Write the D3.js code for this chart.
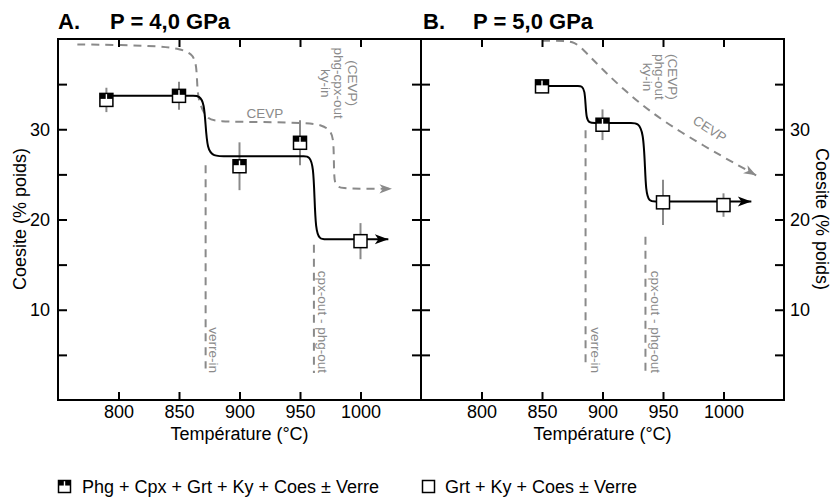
<!DOCTYPE html>
<html><head><meta charset="utf-8">
<script src="https://cdn.jsdelivr.net/npm/d3@7"></script>
<style>
body{margin:0;background:#fff}
svg{display:block}
text{font-family:"Liberation Sans",Arial,Helvetica,sans-serif}
</style>
</head><body>
<svg id="c" width="831" height="498"></svg>
<script>
// ---------------- data ----------------
const xTicks = [800, 850, 900, 950, 1000];
const yTicks = [5, 10, 15, 20, 25, 30, 35];
const yLabelled = [10, 20, 30];

// Panel A : P = 4,0 GPa
const tempA = [790, 850, 900, 950, 1000];
const coesA = [33.25, 33.7, 25.9, 28.5, 17.6];
const errA  = [1.35, 1.55, 2.65, 2.5, 2.0];
const phgA  = [true, true, true, true, false];
const trendA = [[790,33.7],[850,33.7],[862,33.7],[872,33.7],[872,27.0],[884,27.0],[940,27.0],[954,27.0],[962,27.0],[962,17.8],[970,17.8],[990,17.8],[1023,17.8]];
const cevpA = [[766,39.4],[800,39.35],[835,39.2],[851,38.9],[860.5,38.4],[864.7,37.3],[865,34.0],[868,32.5],[873,31.2],[880,30.85],[920,30.8],[955,30.7],[968,30.5],[976,29.8],[978,28.5],[978,24.6],[979.5,23.7],[985,23.45],[1000,23.4],[1026,23.4]];
const verreA = [[872,26.0],[872,3.5]];
const cpxA   = [[961.5,17.2],[961.5,3.0]];

// Panel B : P = 5,0 GPa
const tempB = [850, 900, 950, 1000];
const coesB = [34.75, 30.5, 21.9, 21.6];
const errB  = [0.5, 1.7, 2.5, 1.3];
const phgB  = [true, true, false, false];
const trendB = [[850,34.8],[872,34.8],[880,34.8],[886,34.8],[886,30.7],[892,30.7],[910,30.7],[924,30.7],[935,30.7],[935,22.0],[942,22.0],[960,22.0],[1023,22.0]];
const cevpB = [[850,39.8],[870,39.8],[877,39.6],[883,39.0],[900,36.6],[920,34.1],[940,31.9],[963,29.8],[1000,26.9],[1027,24.9]];
const verreB = [[886,29.9],[886,3.7]];
const cpxB   = [[935.5,18.1],[935.5,2.8]];

const legendLabels = ["Phg + Cpx + Grt + Ky + Coes \u00b1 Verre", "Grt + Ky + Coes \u00b1 Verre"];

// ---------------- layout ----------------
const plotTop = 39, plotBottom = 400;
const panels = [
  {x0: 58, x1: 421, title: "A.", press: "P = 4,0 GPa", temp: tempA, coes: coesA, err: errA, phg: phgA,
   trend: trendA, cevp: cevpA, verre: verreA, cpx: cpxA, leftLabels: true, rightLabels: false,
   notes: [
     {t: "CEVP", x: 921, y: 31.2, rot: 0, anchor: "middle"},
     {t: "(CEVP)", x: 989.3, y: 35.1, rot: 90, anchor: "middle"},
     {t: "phg-cpx-out", x: 978.0, y: 35.1, rot: 90, anchor: "middle"},
     {t: "ky-in", x: 967.6, y: 35.1, rot: 90, anchor: "middle"},
     {t: "verre-in", x: 874.4, y: 3.0, rot: 90, anchor: "end"},
     {t: "cpx-out - phg-out", x: 964.5, y: 3.0, rot: 90, anchor: "end"}
   ]},
  {x0: 421, x1: 784, title: "B.", press: "P = 5,0 GPa", temp: tempB, coes: coesB, err: errB, phg: phgB,
   trend: trendB, cevp: cevpB, verre: verreB, cpx: cpxB, leftLabels: false, rightLabels: true,
   notes: [
     {t: "CEVP", x: 986.5, y: 29.6, rot: 33, anchor: "middle"},
     {t: "(CEVP)", x: 954.2, y: 35.8, rot: 90, anchor: "middle"},
     {t: "phg-out", x: 943.8, y: 35.8, rot: 90, anchor: "middle"},
     {t: "ky-in", x: 933.4, y: 35.8, rot: 90, anchor: "middle"},
     {t: "verre-in", x: 890.6, y: 3.0, rot: 90, anchor: "end"},
     {t: "cpx-out - phg-out", x: 940.3, y: 3.0, rot: 90, anchor: "end"}
   ]}
];

const GRAY = "#8a8a8a";
const svg = d3.select("#c");

const defs = svg.append("defs");
defs.append("marker").attr("id", "arrBlack")
  .attr("viewBox", "-15 -7 16 14").attr("refX", 0).attr("refY", 0)
  .attr("markerWidth", 16).attr("markerHeight", 14).attr("markerUnits", "userSpaceOnUse")
  .attr("orient", "auto")
  .append("path").attr("d", "M0,0 L-13.5,-5 L-10,0 L-13.5,5 Z").attr("fill", "#000");
defs.append("marker").attr("id", "arrGray")
  .attr("viewBox", "-15 -7 16 14").attr("refX", 0).attr("refY", 0)
  .attr("markerWidth", 16).attr("markerHeight", 14).attr("markerUnits", "userSpaceOnUse")
  .attr("orient", "auto")
  .append("path").attr("d", "M0,0 L-12.5,-4.6 L-9,0 L-12.5,4.6 Z").attr("fill", GRAY);

const y = d3.scaleLinear().domain([0, 40]).range([plotBottom, plotTop]);

function drawMarker(g, cx, cy, s, filled) {
  const h = s / 2;
  g.append("rect").attr("x", cx - h).attr("y", cy - h).attr("width", s).attr("height", s)
    .attr("fill", "#fff").attr("stroke", "#000").attr("stroke-width", 1.5);
  if (filled) {
    const bh = s * 0.42;
    g.append("rect").attr("x", cx - h).attr("y", cy - h).attr("width", h - 0.7).attr("height", bh).attr("fill", "#000");
    g.append("rect").attr("x", cx + 0.7).attr("y", cy - h).attr("width", h - 0.7).attr("height", bh).attr("fill", "#000");
  }
}

panels.forEach(p => {
  const x = d3.scaleLinear().domain([750, 1050]).range([p.x0, p.x1]);
  const g = svg.append("g");
  const line = d3.line().x(d => x(d[0])).y(d => y(d[1])).curve(d3.curveBasis);
  const straight = d3.line().x(d => x(d[0])).y(d => y(d[1]));

  // gray dashed boundary lines
  g.append("path").attr("d", line(p.cevp)).attr("fill", "none").attr("stroke", GRAY)
    .attr("stroke-width", 2).attr("stroke-dasharray", "8,6").attr("marker-end", "url(#arrGray)");
  [p.verre, p.cpx].forEach(v => {
    g.append("path").attr("d", straight(v)).attr("fill", "none").attr("stroke", GRAY)
      .attr("stroke-width", 2).attr("stroke-dasharray", "8,6");
  });

  // annotations
  p.notes.forEach(n => {
    g.append("text").attr("transform", `translate(${x(n.x)},${y(n.y)}) rotate(${n.rot})`)
      .attr("text-anchor", n.anchor).attr("font-size", 13.5).attr("fill", GRAY).text(n.t);
  });

  // error bars
  p.temp.forEach((t, i) => {
    g.append("line").attr("x1", x(t)).attr("x2", x(t))
      .attr("y1", y(p.coes[i] - p.err[i])).attr("y2", y(p.coes[i] + p.err[i]))
      .attr("stroke", GRAY).attr("stroke-width", 2);
  });

  // black trend
  g.append("path").attr("d", line(p.trend)).attr("fill", "none").attr("stroke", "#000")
    .attr("stroke-width", 2).attr("marker-end", "url(#arrBlack)");

  // markers
  p.temp.forEach((t, i) => drawMarker(g, x(t), y(p.coes[i]), 13, p.phg[i]));

  // frame
  g.append("rect").attr("x", p.x0).attr("y", plotTop).attr("width", p.x1 - p.x0).attr("height", plotBottom - plotTop)
    .attr("fill", "none").attr("stroke", "#000").attr("stroke-width", 2);

  // axes
  const styleAxis = a => {
    a.select(".domain").remove();
    a.selectAll(".tick line").attr("stroke", "#000").attr("stroke-width", 2);
    a.selectAll(".tick text").attr("font-size", 18).attr("fill", "#000")
      .style("font-family", '"Liberation Sans",Arial,Helvetica,sans-serif');
  };
  g.append("g").attr("transform", `translate(0,${plotBottom})`)
    .call(d3.axisBottom(x).tickValues(xTicks).tickSizeInner(-8).tickSizeOuter(0).tickPadding(5)
      .tickFormat(d => String(d)))
    .call(styleAxis);
  g.append("g").attr("transform", `translate(0,${plotTop})`)
    .call(d3.axisTop(x).tickValues(xTicks).tickSizeInner(-8).tickSizeOuter(0).tickFormat(""))
    .call(styleAxis);
  g.append("g").attr("transform", `translate(${p.x0},0)`)
    .call(d3.axisLeft(y).tickValues(yTicks).tickSizeInner(-9).tickSizeOuter(0).tickPadding(8)
      .tickFormat(d => p.leftLabels && yLabelled.includes(d) ? String(d) : ""))
    .call(styleAxis);
  g.append("g").attr("transform", `translate(${p.x1},0)`)
    .call(d3.axisRight(y).tickValues(yTicks).tickSizeInner(-9).tickSizeOuter(0).tickPadding(6)
      .tickFormat(d => p.rightLabels && yLabelled.includes(d) ? String(d) : ""))
    .call(styleAxis);

  // x title
  g.append("text").attr("x", x(900)).attr("y", 440).attr("text-anchor", "middle")
    .attr("font-size", 18).text("Temp\u00e9rature (\u00b0C)");

  // panel title
  g.append("text").attr("x", p.x0 + (p.title === "B." ? 2 : 0)).attr("y", 29)
    .attr("font-size", 22).attr("font-weight", "bold").text(p.title);
  g.append("text").attr("x", p.x0 + 52).attr("y", 29)
    .attr("font-size", 22).attr("font-weight", "bold").text(p.press);
});

// y titles
svg.append("text").attr("transform", "translate(26,219) rotate(-90)").attr("text-anchor", "middle")
  .attr("font-size", 18).text("Coesite (% poids)");
svg.append("text").attr("transform", "translate(816,219) rotate(90)").attr("text-anchor", "middle")
  .attr("font-size", 18).text("Coesite (% poids)");

// legend
const leg = svg.append("g");
drawMarker(leg, 64.5, 486.5, 12, true);
leg.append("text").attr("x", 82).attr("y", 492.5).attr("font-size", 18).text(legendLabels[0]);
drawMarker(leg, 428.5, 486.5, 12, false);
leg.append("text").attr("x", 445).attr("y", 492.5).attr("font-size", 18).text(legendLabels[1]);
</script>
</body></html>
